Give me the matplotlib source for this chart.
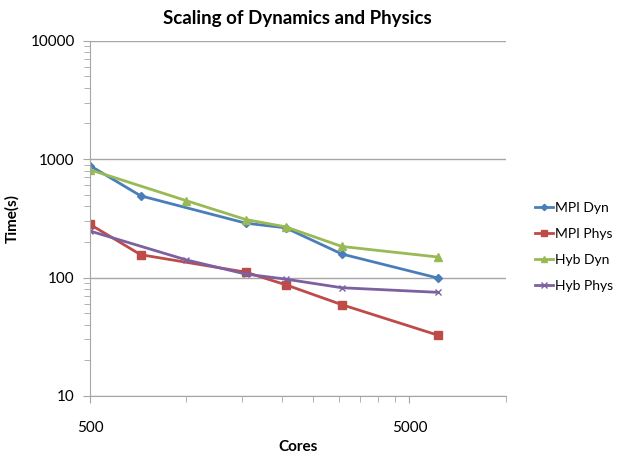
import matplotlib
matplotlib.use("Agg")
import matplotlib.pyplot as plt
from matplotlib.ticker import FixedLocator, NullFormatter, FixedFormatter

plt.rcParams["font.family"] = ["Lato", "DejaVu Sans"]

mpi_cores = [500, 720, 1536, 2048, 3072, 6144]
hyb_cores = [500, 1000, 1536, 2048, 3072, 6144]
mpi_dyn = [880, 490, 288, 263, 158, 99]
mpi_phys = [281, 156, 111, 87, 59, 32.6]
hyb_dyn = [813, 446, 309, 268, 183, 149]
hyb_phys = [247, 141, 107, 97, 82, 75]

x_major = [500, 5000]
x_minor = [1000, 1500, 2000, 2500, 3000, 3500, 4000, 4500, 10000]
y_major = [10, 100, 1000, 10000]

fig = plt.figure(figsize=(6.23, 4.54), dpi=100)
ax = fig.add_axes([0.1445, 0.1278, 0.667, 0.7826])

ax.plot(mpi_cores, mpi_dyn, color="#4A7EBB", marker="D", ms=4, lw=2, label="MPI Dyn")
ax.plot(mpi_cores, mpi_phys, color="#BE4B48", marker="s", ms=5.5, lw=2, label="MPI Phys")
ax.plot(hyb_cores, hyb_dyn, color="#98B954", marker="^", ms=6, lw=2, label="Hyb Dyn")
ax.plot(hyb_cores, hyb_phys, color="#7D60A0", marker="x", ms=5, mew=1, lw=2, label="Hyb Phys")

ax.set_xscale("log")
ax.set_yscale("log")
ax.set_xlim(500, 10000)
ax.set_ylim(10, 10000)

ax.xaxis.set_major_locator(FixedLocator(x_major))
ax.xaxis.set_major_formatter(FixedFormatter([str(v) for v in x_major]))
ax.xaxis.set_minor_locator(FixedLocator(x_minor))
ax.xaxis.set_minor_formatter(NullFormatter())
ax.yaxis.set_major_locator(FixedLocator(y_major))
ax.yaxis.set_major_formatter(FixedFormatter([str(v) for v in y_major]))

ax.grid(axis="y", which="major", color="#a6a6a6", lw=1)
ax.set_axisbelow(True)
for s in ("top", "right"):
    ax.spines[s].set_visible(False)
for s in ("left", "bottom"):
    ax.spines[s].set_color("#a6a6a6")
ax.tick_params(which="both", color="#a6a6a6", labelsize=11, direction="out")
ax.tick_params(which="major", length=5)
ax.tick_params(which="minor", length=4)
ax.tick_params(axis="x", which="major", pad=13)
ax.tick_params(axis="y", which="major", pad=6)

ax.set_title("Scaling of Dynamics and Physics", fontsize=13.5, fontweight="bold", pad=12)
ax.set_xlabel("Cores", fontsize=11, fontweight="bold")
ax.xaxis.set_label_coords(0.5, -0.125)
ax.set_ylabel("Time(s)", fontsize=11, fontweight="bold", labelpad=8)

ax.legend(loc="center left", bbox_to_anchor=(1.07, 0.42), frameon=False,
          fontsize=10, handlelength=1.3, handletextpad=0.2, labelspacing=1.0,
          borderaxespad=0, borderpad=0, markerscale=0.8)

fig.savefig("out.png", dpi=100)
